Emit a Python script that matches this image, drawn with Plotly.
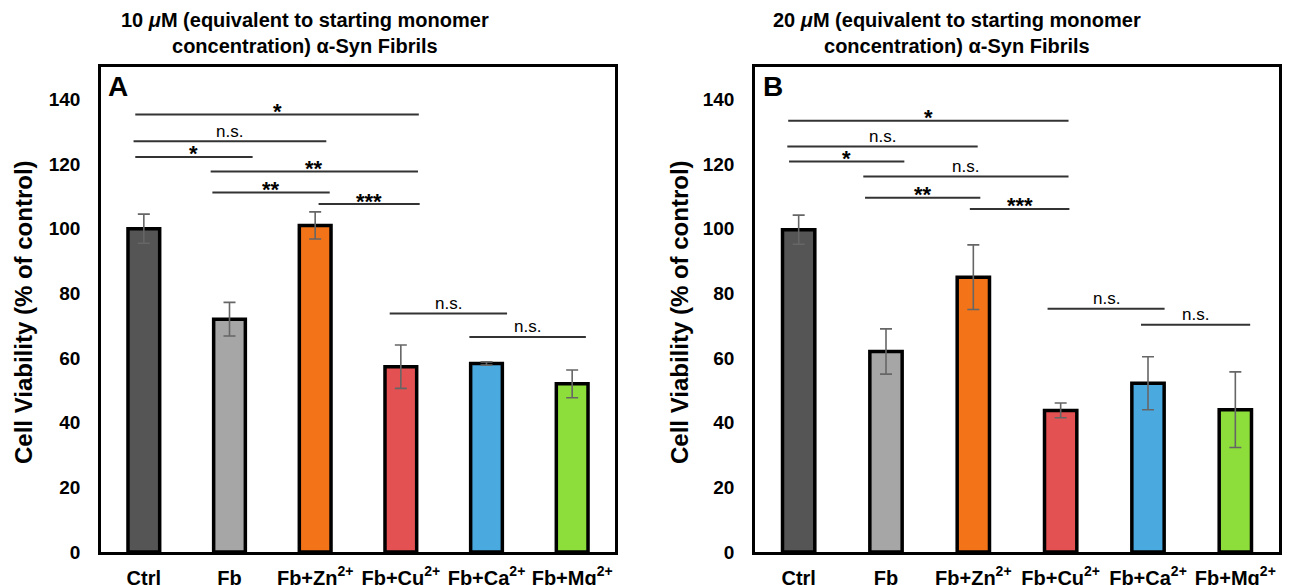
import plotly.graph_objects as go

# ---------------- data ----------------
categories = ["Ctrl", "Fb", "Fb+Zn<sup>2+</sup>", "Fb+Cu<sup>2+</sup>",
              "Fb+Ca<sup>2+</sup>", "Fb+Mg<sup>2+</sup>"]
bar_colors = ["#555555", "#a6a6a6", "#f27318", "#e35153", "#4aaae0", "#8ede3b"]

viability_10uM = [100, 72, 101, 57.3, 58.3, 52]
error_10uM = [4.5, 5.2, 4.2, 6.7, 0.5, 4.3]

viability_20uM = [99.7, 62, 85, 43.8, 52.2, 44]
error_20uM = [4.5, 7.0, 10.0, 2.3, 8.2, 11.7]

y_ticks = [0, 20, 40, 60, 80, 100, 120, 140]

# significance brackets (start category, end category, height, label)
sig_10uM_start = [-0.10, -0.12, -0.10, 0.78, 0.80, 2.04, 2.87, 3.80]
sig_10uM_end = [3.21, 2.13, 1.27, 3.20, 2.17, 3.22, 4.24, 5.16]
sig_10uM_height = [135.3, 127.0, 122.2, 117.7, 111.2, 107.6, 73.8, 66.5]
sig_10uM_label = ["*", "n.s.", "*", "**", "**", "***", "n.s.", "n.s."]

sig_20uM_start = [-0.12, -0.13, -0.11, 0.74, 0.76, 1.96, 2.85, 3.92]
sig_20uM_end = [3.09, 2.05, 1.21, 3.09, 2.08, 3.10, 4.19, 5.17]
sig_20uM_height = [133.4, 125.4, 120.8, 116.1, 109.6, 106.1, 75.2, 70.3]
sig_20uM_label = ["*", "n.s.", "*", "n.s.", "**", "***", "n.s.", "n.s."]

title_10uM = "10 <i>μ</i>M (equivalent to starting monomer<br>concentration) α-Syn Fibrils"
title_20uM = "20 <i>μ</i>M (equivalent to starting monomer<br>concentration) α-Syn Fibrils"
y_title = "Cell Viability (% of control)"

# ---------------- figure ----------------
FONT = "Liberation Sans, Arial, Helvetica, sans-serif"
W, H = 1297, 585
fig = go.Figure()

x_idx = list(range(len(categories)))

for k, (vals, errs) in enumerate([(viability_10uM, error_10uM), (viability_20uM, error_20uM)]):
    xa = "x" if k == 0 else "x2"
    ya = "y" if k == 0 else "y2"
    fig.add_trace(go.Bar(
        x=x_idx, y=vals, xaxis=xa, yaxis=ya, width=0.37,
        marker=dict(color=bar_colors, line=dict(color="black", width=3.5)),
        error_y=dict(type="data", array=errs, visible=True, color="#666666",
                     thickness=1.6, width=6),
        showlegend=False, hoverinfo="skip",
    ))

def add_brackets(starts, ends, heights, labels, xref, yref):
    for s, e, h, lab in zip(starts, ends, heights, labels):
        fig.add_shape(type="line", xref=xref, yref=yref, x0=s, x1=e, y0=h, y1=h,
                      line=dict(color="#333333", width=2))
        is_star = lab.startswith("*")
        fig.add_annotation(
            x=(s + e) / 2, y=h, xref=xref, yref=yref, text=lab, showarrow=False,
            xanchor="center", yanchor="middle",
            yshift=3 if is_star else 10,
            font=dict(family=FONT, size=22 if is_star else 17, color="black",
                      weight="bold" if is_star else "normal"),
        )

add_brackets(sig_10uM_start, sig_10uM_end, sig_10uM_height, sig_10uM_label, "x", "y")
add_brackets(sig_20uM_start, sig_20uM_end, sig_20uM_height, sig_20uM_label, "x2", "y2")

ydom = [1 - 552 / H, 1 - 67 / H]
xdomA = [101 / W, 615 / W]
xdomB = [755 / W, 1279 / W]

xaxis_common = dict(
    range=[-0.5, 5.5], tickmode="array", tickvals=x_idx, ticktext=categories,
    showgrid=False, zeroline=False, showline=True, mirror=True,
    linecolor="black", linewidth=2.5, ticks="", automargin=False,
    ticklabelstandoff=6,
    tickfont=dict(family=FONT, size=20, color="black", weight="bold"),
)
yaxis_common = dict(
    range=[0, 150], tickmode="array", tickvals=y_ticks,
    showgrid=False, zeroline=False, showline=True, mirror=True,
    linecolor="black", linewidth=2.5, ticks="", automargin=False,
    ticklabelstandoff=14,
    tickfont=dict(family=FONT, size=19, color="black", weight="bold"),
)

fig.update_layout(
    width=W, height=H,
    margin=dict(l=0, r=0, t=0, b=0),
    paper_bgcolor="white", plot_bgcolor="white",
    xaxis=dict(domain=xdomA, anchor="y", **xaxis_common),
    yaxis=dict(domain=ydom, anchor="x", **yaxis_common),
    xaxis2=dict(domain=xdomB, anchor="y2", **xaxis_common),
    yaxis2=dict(domain=ydom, anchor="x2", **yaxis_common),
    bargap=0.6,
)

# titles
for txt, xc in [(title_10uM, 305), (title_20uM, 957)]:
    fig.add_annotation(x=xc / W, y=1 - 7 / H, xref="paper", yref="paper", text=txt,
                       showarrow=False, xanchor="center", yanchor="top",
                       font=dict(family=FONT, size=20, color="black", weight="bold"))

# y-axis titles
for xc in [23, 679]:
    fig.add_annotation(x=xc / W, y=1 - 312 / H, xref="paper", yref="paper", text=y_title,
                       showarrow=False, textangle=-90, xanchor="center", yanchor="middle",
                       font=dict(family=FONT, size=24, color="black", weight="bold"))

# panel letters
for lab, xl in [("A", 106), ("B", 761)]:
    fig.add_annotation(x=xl / W, y=1 - 69 / H, xref="paper", yref="paper", text=lab,
                       showarrow=False, xanchor="left", yanchor="top",
                       font=dict(family=FONT, size=28, color="black", weight="bold"))

fig.write_html("out.html")
